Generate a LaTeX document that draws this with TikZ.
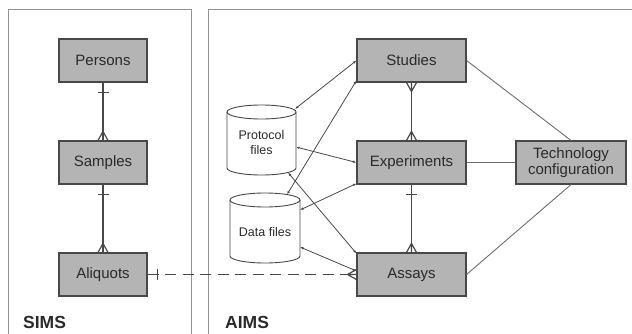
\documentclass[tikz,border=0pt]{standalone}
\usepackage{fontspec}
\setmainfont{Liberation Sans}
\usetikzlibrary{arrows.meta,calc}
\definecolor{boxfill}{HTML}{B4B4B4}
\definecolor{edgec}{HTML}{484848}
\definecolor{txtc}{HTML}{2A2A2A}
\newcommand\crowfoot[2]{%
  \draw[rel] ($(#1)+(#2:9)$) -- (#1)
             ($(#1)+(#2:9)$) -- ($(#1)+(#2+90:5)$)
             ($(#1)+(#2:9)$) -- ($(#1)+(#2-90:5)$);}
\newcommand\onebar[2]{%
  \draw[rel, line width=1.5pt] ($(#1)+(#2:10)+(#2+90:5.5)$) -- ($(#1)+(#2:10)+(#2-90:5.5)$);}
\begin{document}
\begin{tikzpicture}[x=1pt,y=1pt,
  ent/.style={draw=edgec, fill=boxfill, line width=1.1pt, minimum height=43pt,
    inner sep=0pt, font=\fontsize{15}{17}\selectfont, text=txtc, align=center},
  rel/.style={draw=edgec, line width=1.2pt},
  link/.style={draw=edgec, line width=0.8pt,
    {Latex[length=3.5pt,width=2.6pt]}-{Latex[length=3.5pt,width=2.6pt]}},
  techlink/.style={draw=edgec!80, line width=0.9pt},
  panel/.style={draw=gray!85, line width=1pt},
  cyl/.style={draw=edgec, line width=0.9pt, fill=white},
  cyltext/.style={font=\fontsize{12.5}{15}\selectfont, text=txtc, align=center},
  lbl/.style={font=\fontsize{17.5}{19}\selectfont\bfseries, anchor=west, text=txtc, inner sep=0pt}]
\useasboundingbox (0,0) rectangle (632,333);
% panels
\draw[panel] (8,-10) rectangle (191,323);
\draw[panel] (208,-10) rectangle (660,323);
\node[lbl] (sims) at (23,11) {SIMS};
\node[lbl] (aims) at (225,11) {AIMS};
% entities
\node[ent, minimum width=88pt] (persons) at (103,272.5) {Persons};
\node[ent, minimum width=88pt] (samples) at (103,170.5) {Samples};
\node[ent, minimum width=88pt] (aliquots) at (103,58.5) {Aliquots};
\node[ent, minimum width=109pt] (studies) at (411.5,272.5) {Studies};
\node[ent, minimum width=109pt] (experiments) at (411.5,170.5) {Experiments};
\node[ent, minimum width=109pt] (assays) at (411.5,58.5) {Assays};
\node[ent, minimum width=110pt, font=\fontsize{15}{16.5}\selectfont] (techcfg) at (571,170.5) {Technology\\configuration};
% cylinders
\path[cyl] (227,221) -- (227,165) arc[start angle=180,end angle=360,x radius=34.5,y radius=7]
  -- (296,221) arc[start angle=0,end angle=180,x radius=34.5,y radius=7] -- cycle;
\draw[cyl, fill=none] (227,221) arc[start angle=180,end angle=360,x radius=34.5,y radius=7];
\node[cyltext] (proto) at (261.5,190.5) {Protocol\\files};
\path[cyl] (230,133) -- (230,77) arc[start angle=180,end angle=360,x radius=35,y radius=7]
  -- (300,133) arc[start angle=0,end angle=180,x radius=35,y radius=7] -- cycle;
\draw[cyl, fill=none] (230,133) arc[start angle=180,end angle=360,x radius=35,y radius=7];
\node[cyltext] (datafiles) at (265,101) {Data files};
% cylinder attachment points
\coordinate (p1) at (295,224);
\coordinate (p2) at (296,186);
\coordinate (p3) at (288,160.5);
\coordinate (d1) at (287,138.5);
\coordinate (d2) at (300,123);
\coordinate (d3) at (300,86);
\coordinate (s2) at ($(studies.south west)+(0,2)$);
\coordinate (e2) at ($(experiments.south west)+(0,1)$);
\coordinate (a1) at ($(assays.north west)+(0,-1)$);
\coordinate (a2) at ($(assays.west)+(0,3.5)$);
% file links
\draw[link] (p1) -- (studies.west);
\draw[link] (d1) -- (s2);
\draw[link] (p2) -- (experiments.west);
\draw[link] (p3) -- (a1);
\draw[link] (d2) -- (e2);
\draw[link] (d3) -- (a2);
% technology links
\draw[techlink] (studies.east) -- (techcfg.north);
\draw[techlink] (experiments.east) -- (techcfg.west);
\draw[techlink] (assays.east) -- (techcfg.south);
% ER relations
\draw[rel] (persons.south) -- (samples.north);
\onebar{persons.south}{-90}
\crowfoot{samples.north}{90}
\draw[rel] (samples.south) -- (aliquots.north);
\onebar{samples.south}{-90}
\crowfoot{aliquots.north}{90}
\draw[rel] (studies.south) -- (experiments.north);
\crowfoot{studies.south}{-90}
\crowfoot{experiments.north}{90}
\draw[rel] (experiments.south) -- (assays.north);
\onebar{experiments.south}{-90}
\crowfoot{assays.north}{90}
\draw[rel, line width=1.9pt, dash pattern=on 11pt off 6.5pt] (aliquots.east) -- (assays.west);
\onebar{aliquots.east}{0}
\crowfoot{assays.west}{180}
\end{tikzpicture}
\end{document}
